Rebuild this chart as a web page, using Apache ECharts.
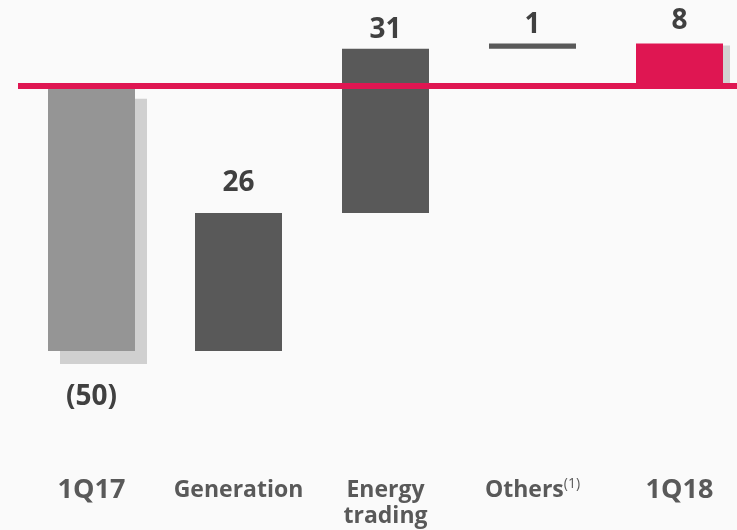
<!DOCTYPE html>
<html>
<head>
<meta charset="utf-8">
<script src="https://cdn.jsdelivr.net/npm/echarts@6/dist/echarts.min.js"></script>
<style>
  html, body { margin: 0; padding: 0; background: #fafafa; }
  #chart { width: 737px; height: 530px; }
</style>
</head>
<body>
<div id="chart"></div>
<script>
var categories = ["1Q17", "Generation", "Energy trading", "Others", "1Q18"];
var deltas = [-50, 26, 31, 1, 8];
var isTotal = [true, false, false, false, true];
var valueLabels = ["(50)", "26", "31", "1", "8"];

// styling
var barColors = ["#959595", "#595959", "#595959", "#595959", "#df1652"];
var labelGaps = [32, 16, 5, 4, 8];
var red = "#df1652";

// bases for the invisible part of the waterfall
var bases = [];
var running = 0;
for (var i = 0; i < deltas.length; i++) {
    if (isTotal[i]) {
        bases.push(0);
        running = deltas[i];
    } else {
        bases.push(running);
        running += deltas[i];
    }
}

function categoryLabel(name) {
    if (name === "1Q17" || name === "1Q18") return "{big|" + name + "}";
    if (name === "Others") return "{mid|Others}{sup|(1)}";
    if (name === "Energy trading") return "{mid|Energy}\n{mid|trading}";
    return "{mid|" + name + "}";
}

var deltaData = deltas.map(function(v, i) {
    var item = {
        value: v,
        itemStyle: { color: barColors[i] },
        label: {
            position: v < 0 ? "bottom" : "top",
            distance: labelGaps[i]
        }
    };
    if (i === 0) {
        item.itemStyle.shadowColor = "#d0d0d0";
        item.itemStyle.shadowOffsetX = 12;
        item.itemStyle.shadowOffsetY = 13;
        item.itemStyle.shadowBlur = 0;
    }
    if (i === deltas.length - 1) {
        item.itemStyle.shadowColor = "#d2d2d2";
        item.itemStyle.shadowOffsetX = 7;
        item.itemStyle.shadowOffsetY = 2;
        item.itemStyle.shadowBlur = 0;
    }
    return item;
});

var chart = echarts.init(document.getElementById("chart"));
chart.setOption({
    backgroundColor: "#fafafa",
    animation: false,
    textStyle: { fontFamily: "Open Sans" },
    grid: { left: 18, width: 735, top: 1, height: 456, outerBoundsMode: "none", containLabel: false },
    xAxis: {
        type: "category",
        data: categories,
        axisLine: { show: false, onZero: false },
        axisTick: { show: false },
        splitLine: { show: false },
        axisLabel: {
            interval: 0,
            margin: 20,
            verticalAlign: "top",
            lineHeight: 26,
            formatter: categoryLabel,
            rich: {
                big: { fontSize: 27, fontWeight: "bold", color: "#595959", lineHeight: 26, fontFamily: "Open Sans" },
                mid: { fontSize: 23, fontWeight: "bold", color: "#595959", lineHeight: 26, fontFamily: "Open Sans" },
                sup: { fontSize: 14, color: "#595959", lineHeight: 16, verticalAlign: "top", fontFamily: "Open Sans" }
            }
        }
    },
    yAxis: {
        type: "value",
        show: false,
        min: -70,
        max: 16,
        splitLine: { show: false }
    },
    series: [
        {
            name: "base",
            type: "bar",
            stack: "w",
            stackStrategy: "all",
            barWidth: 87,
            itemStyle: { color: "transparent" },
            data: bases,
            silent: true
        },
        {
            name: "delta",
            type: "bar",
            stack: "w",
            stackStrategy: "all",
            barWidth: 87,
            data: deltaData,
            label: {
                show: true,
                fontSize: 28,
                fontWeight: "bold",
                color: "#404040",
                fontFamily: "Open Sans",
                formatter: function(p) { return valueLabels[p.dataIndex]; }
            },
            markLine: {
                silent: true,
                symbol: "none",
                z: 10,
                label: { show: false },
                lineStyle: { color: red, width: 6, type: "solid" },
                data: [{ yAxis: 0 }]
            }
        }
    ]
});

window.addEventListener("resize", function() {
    chart.resize();
});
</script>
</body>
</html>
